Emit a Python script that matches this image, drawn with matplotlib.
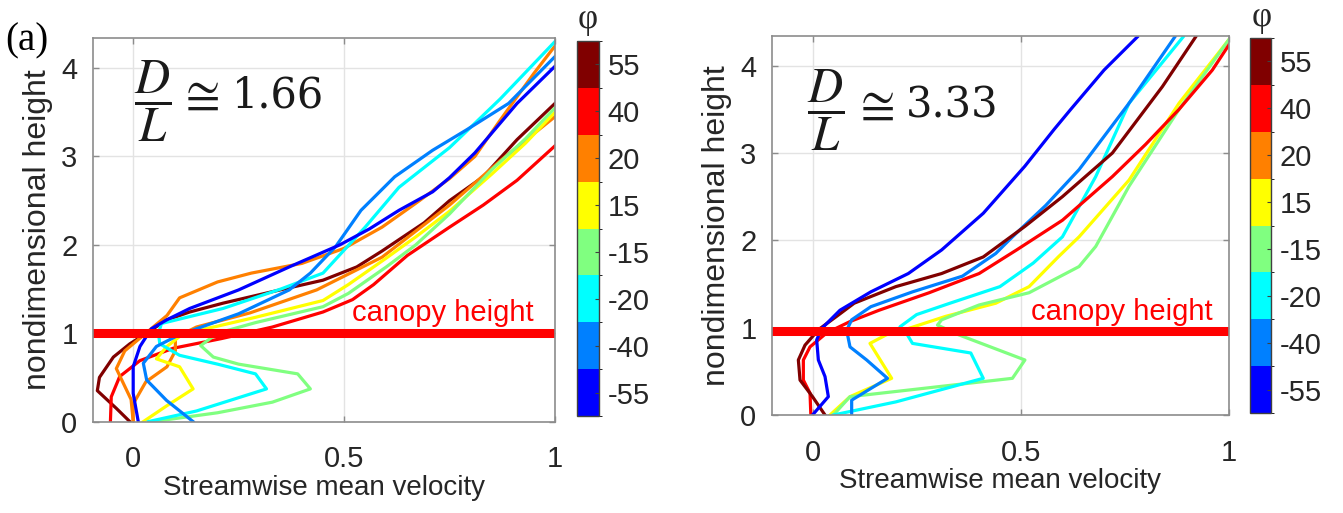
import numpy as np
import matplotlib
matplotlib.use("Agg")
import matplotlib.pyplot as plt
from matplotlib.colors import ListedColormap, BoundaryNorm
from matplotlib.colorbar import ColorbarBase

plt.rcParams['font.family'] = ['Liberation Sans', 'DejaVu Sans']
plt.rcParams['mathtext.fontset'] = 'stix'

# ---- data: streamwise mean velocity (u) vs nondimensional height (z) ----
phi_labels = ['55', '40', '20', '15', '-15', '-20', '-40', '-55']
phi_colors = ['#800000', '#ff0000', '#ff8000', '#ffff00',
              '#80ff80', '#00ffff', '#0080ff', '#0000ff']

# left panel, D/L ~ 1.66
L55_u = [-0.008, -0.04, -0.085, -0.08, -0.047, -0.008, 0.032, 0.079, 0.134, 0.213, 0.33, 0.45, 0.53, 0.59, 0.69, 0.75, 0.83, 0.91, 1.0]
L55_z = [0.0, 0.15, 0.35, 0.5, 0.73, 0.88, 1.0, 1.15, 1.24, 1.34, 1.47, 1.6, 1.75, 1.93, 2.25, 2.5, 2.77, 3.19, 3.6]
L40_u = [-0.054, -0.052, -0.032, 0.016, 0.095, 0.21, 0.33, 0.45, 0.52, 0.57, 0.65, 0.75, 0.83, 0.91, 1.0]
L40_z = [0.0, 0.28, 0.51, 0.69, 0.83, 0.94, 1.07, 1.24, 1.38, 1.55, 1.88, 2.2, 2.45, 2.73, 3.12]
L20a_u = [0.0, -0.005, -0.04, -0.02, 0.03, 0.08, 0.11, 0.2, 0.28, 0.4, 0.5, 0.59, 0.67, 0.75, 0.81, 0.87, 0.95, 1.0]
L20a_z = [0.0, 0.25, 0.6, 0.8, 1.0, 1.2, 1.4, 1.58, 1.68, 1.79, 1.96, 2.2, 2.47, 2.75, 3.0, 3.41, 3.94, 4.25]
L20b_u = [0.0, 0.0, 0.03, 0.08, 0.1, 0.1, 0.15, 0.277, 0.435, 0.59, 0.75, 0.87, 1.0]
L20b_z = [0.0, 0.2, 0.45, 0.62, 0.8, 0.95, 1.07, 1.23, 1.49, 1.86, 2.45, 2.95, 3.45]
L15_u = [0.024, 0.08, 0.142, 0.11, 0.055, 0.08, 0.12, 0.2, 0.29, 0.45, 0.51, 0.6, 0.67, 0.75, 0.85, 0.93, 1.0]
L15_z = [0.0, 0.18, 0.37, 0.62, 0.71, 0.85, 1.0, 1.08, 1.18, 1.37, 1.55, 1.85, 2.09, 2.38, 2.8, 3.15, 3.5]
Lm15_u = [0.047, 0.2, 0.33, 0.42, 0.39, 0.25, 0.19, 0.16, 0.2, 0.29, 0.45, 0.51, 0.6, 0.67, 0.75, 0.85, 0.93, 1.0]
Lm15_z = [0.0, 0.1, 0.22, 0.37, 0.54, 0.65, 0.73, 0.86, 1.0, 1.12, 1.3, 1.45, 1.75, 2.0, 2.35, 2.85, 3.2, 3.55]
Lm20_u = [0.036, 0.15, 0.316, 0.29, 0.2, 0.11, 0.063, 0.06, 0.067, 0.213, 0.35, 0.45, 0.55, 0.63, 0.75, 0.87, 1.0]
Lm20_z = [0.0, 0.12, 0.37, 0.54, 0.65, 0.75, 0.88, 1.0, 1.11, 1.28, 1.5, 1.68, 2.2, 2.65, 3.1, 3.65, 4.3]
Lm40_u = [0.142, 0.079, 0.032, 0.024, 0.055, 0.10, 0.15, 0.25, 0.37, 0.42, 0.48, 0.54, 0.62, 0.71, 0.79, 0.89, 1.0]
Lm40_z = [0.0, 0.24, 0.47, 0.66, 0.85, 0.96, 1.05, 1.22, 1.49, 1.68, 1.98, 2.39, 2.77, 3.07, 3.3, 3.6, 4.13]
Lm55_u = [0.012, 0.0, 0.0, 0.016, 0.043, 0.079, 0.134, 0.25, 0.37, 0.49, 0.56, 0.63, 0.71, 0.75, 0.81, 0.91, 1.0]
Lm55_z = [0.0, 0.32, 0.62, 0.85, 1.05, 1.15, 1.28, 1.49, 1.75, 2.0, 2.18, 2.39, 2.6, 2.76, 3.04, 3.6, 4.02]

# right panel, D/L ~ 3.33
R55_u = [0.03, 0.0, -0.03, -0.034, -0.018, 0.015, 0.058, 0.1, 0.2, 0.31, 0.41, 0.51, 0.6, 0.72, 0.84, 0.92]
R55_z = [0.0, 0.21, 0.4, 0.63, 0.8, 0.98, 1.13, 1.28, 1.47, 1.62, 1.81, 2.16, 2.5, 3.0, 3.76, 4.33]
R40_u = [-0.004, -0.006, -0.022, -0.022, -0.006, 0.034, 0.09, 0.16, 0.28, 0.4, 0.49, 0.6, 0.72, 0.8, 0.88, 0.96, 1.0]
R40_z = [0.0, 0.25, 0.4, 0.63, 0.78, 0.94, 1.07, 1.2, 1.4, 1.62, 1.89, 2.23, 2.73, 3.1, 3.5, 3.95, 4.24]
R15_u = [0.042, 0.09, 0.19, 0.138, 0.178, 0.23, 0.32, 0.44, 0.52, 0.59, 0.64, 0.76, 0.88, 1.0]
R15_z = [0.0, 0.21, 0.42, 0.82, 0.92, 0.99, 1.13, 1.28, 1.47, 1.81, 2.04, 2.69, 3.57, 4.3]
Rm15_u = [0.05, 0.09, 0.48, 0.51, 0.35, 0.3, 0.31, 0.4, 0.52, 0.64, 0.68, 0.76, 0.88, 1.0]
Rm15_z = [0.0, 0.21, 0.42, 0.63, 0.92, 1.03, 1.09, 1.26, 1.4, 1.7, 1.93, 2.62, 3.5, 4.3]
Rm20_u = [0.05, 0.2, 0.41, 0.38, 0.24, 0.225, 0.21, 0.25, 0.33, 0.45, 0.53, 0.6, 0.68, 0.76, 0.89]
Rm20_z = [0.0, 0.15, 0.42, 0.71, 0.82, 0.94, 1.01, 1.15, 1.28, 1.47, 1.74, 2.04, 2.73, 3.57, 4.33]
Rm40_u = [0.094, 0.094, 0.18, 0.13, 0.09, 0.082, 0.094, 0.14, 0.24, 0.36, 0.44, 0.48, 0.56, 0.64, 0.76, 0.87]
Rm40_z = [0.0, 0.17, 0.42, 0.63, 0.78, 0.97, 1.09, 1.24, 1.41, 1.59, 1.85, 2.04, 2.4, 2.81, 3.57, 4.33]
Rm55_u = [0.0, 0.038, 0.03, 0.014, 0.01, 0.022, 0.066, 0.14, 0.23, 0.31, 0.41, 0.51, 0.58, 0.62, 0.7, 0.78]
Rm55_z = [0.0, 0.21, 0.44, 0.63, 0.86, 0.99, 1.2, 1.41, 1.62, 1.89, 2.31, 2.85, 3.27, 3.5, 3.95, 4.33]

left_curves = [(L55_u, L55_z, 0), (L40_u, L40_z, 1), (L20a_u, L20a_z, 2), (L20b_u, L20b_z, 2),
               (L15_u, L15_z, 3), (Lm15_u, Lm15_z, 4), (Lm20_u, Lm20_z, 5), (Lm40_u, Lm40_z, 6),
               (Lm55_u, Lm55_z, 7)]
right_curves = [(R15_u, R15_z, 3), (Rm15_u, Rm15_z, 4), (Rm20_u, Rm20_z, 5), (R40_u, R40_z, 1),
                (Rm40_u, Rm40_z, 6), (R55_u, R55_z, 0), (Rm55_u, Rm55_z, 7)]

canopy_left = 1.0
canopy_right = 0.96
ratio_left = '1.66'
ratio_right = '3.33'

W, H = 1343, 513
fig = plt.figure(figsize=(W / 100, H / 100), dpi=100)


def px_axes(x0, y0, x1, y1):
    return fig.add_axes([x0 / W, 1 - y1 / H, (x1 - x0) / W, (y1 - y0) / H])


def px_text(x, y, s, **kw):
    return fig.text(x / W, 1 - y / H, s, **kw)


def style_axes(ax, xlo):
    ax.set_xlim(xlo, 1.0)
    ax.set_ylim(0, 4.34)
    ax.set_xticks([0, 0.5, 1])
    ax.set_xticklabels(['0', '0.5', '1'])
    ax.set_yticks([0, 1, 2, 3, 4])
    ax.grid(True, color='#e3e3e3', linewidth=1.0)
    ax.set_axisbelow(True)
    for s in ax.spines.values():
        s.set_color('#8c8c8c')
        s.set_linewidth(1.2)
    ax.tick_params(direction='in', length=4, width=1, colors='#8c8c8c',
                   labelcolor='#262626', labelsize=21, top=True, right=True)
    ax.tick_params(axis='x', pad=17)
    ax.tick_params(axis='y', pad=11)
    ax.set_xlabel('Streamwise mean velocity', fontsize=20, color='#262626', labelpad=1)
    ax.set_ylabel('nondimensional height', fontsize=23, color='#262626', labelpad=6)


def draw_cbar(cax):
    cmap = ListedColormap(phi_colors[::-1])
    norm = BoundaryNorm(np.arange(9), 8)
    cb = ColorbarBase(cax, cmap=cmap, norm=norm, ticks=np.arange(8) + 0.5)
    cb.set_ticklabels(phi_labels[::-1])
    cb.outline.set_edgecolor('#404040')
    cb.outline.set_linewidth(1.0)
    cax.tick_params(labelsize=21, length=3, direction='in', colors='#404040',
                    labelcolor='#262626', pad=6)


def ratio_label(x_frac, y_frac, x_cong, x_num, y_num, value):
    px_text(x_frac, y_frac, r'$\dfrac{D}{L}$', fontsize=35, ha='left', va='center', color='#1a1a1a')
    px_text(x_cong, y_num, r'$\cong$', fontsize=36, ha='left', va='center', color='#1a1a1a')
    px_text(x_num, y_num, value, family=['DejaVu Serif'], fontsize=30,
            ha='left', va='center', color='#1a1a1a')


# left panel
ax1 = px_axes(92.7, 38, 555, 421.6)
style_axes(ax1, -0.096)
for u, z, k in left_curves:
    ax1.plot(u, z, color=phi_colors[k], lw=2.3)
ax1.axhline(canopy_left, color='#ff0000', lw=6.5)
ax1.text(0.734, 1.23, 'canopy height', color='#ff0000', fontsize=21, ha='center', va='center')
ratio_label(134, 101, 178, 232, 96, ratio_left)

# right panel
ax2 = px_axes(771.7, 36, 1229, 415)
style_axes(ax2, -0.098)
for u, z, k in right_curves:
    ax2.plot(u, z, color=phi_colors[k], lw=2.3)
ax2.axhline(canopy_right, color='#ff0000', lw=6.5)
ax2.text(0.742, 1.18, 'canopy height', color='#ff0000', fontsize=21, ha='center', va='center')
ratio_label(807, 110, 853, 906, 106, ratio_right)

# colorbars
cax1 = px_axes(577, 41, 599, 416)
draw_cbar(cax1)
cax2 = px_axes(1250, 38, 1271, 413)
draw_cbar(cax2)

px_text(588, 20, 'φ', family=['Liberation Serif', 'DejaVu Serif'],
        fontsize=25, ha='center', va='center', color='#262626')
px_text(1262, 18, 'φ', family=['Liberation Serif', 'DejaVu Serif'],
        fontsize=25, ha='center', va='center', color='#262626')
px_text(5, 41, '(a)', family=['Liberation Serif', 'DejaVu Serif'],
        fontsize=28, ha='left', va='center', color='#000000')

fig.savefig('out.png', dpi=100)
